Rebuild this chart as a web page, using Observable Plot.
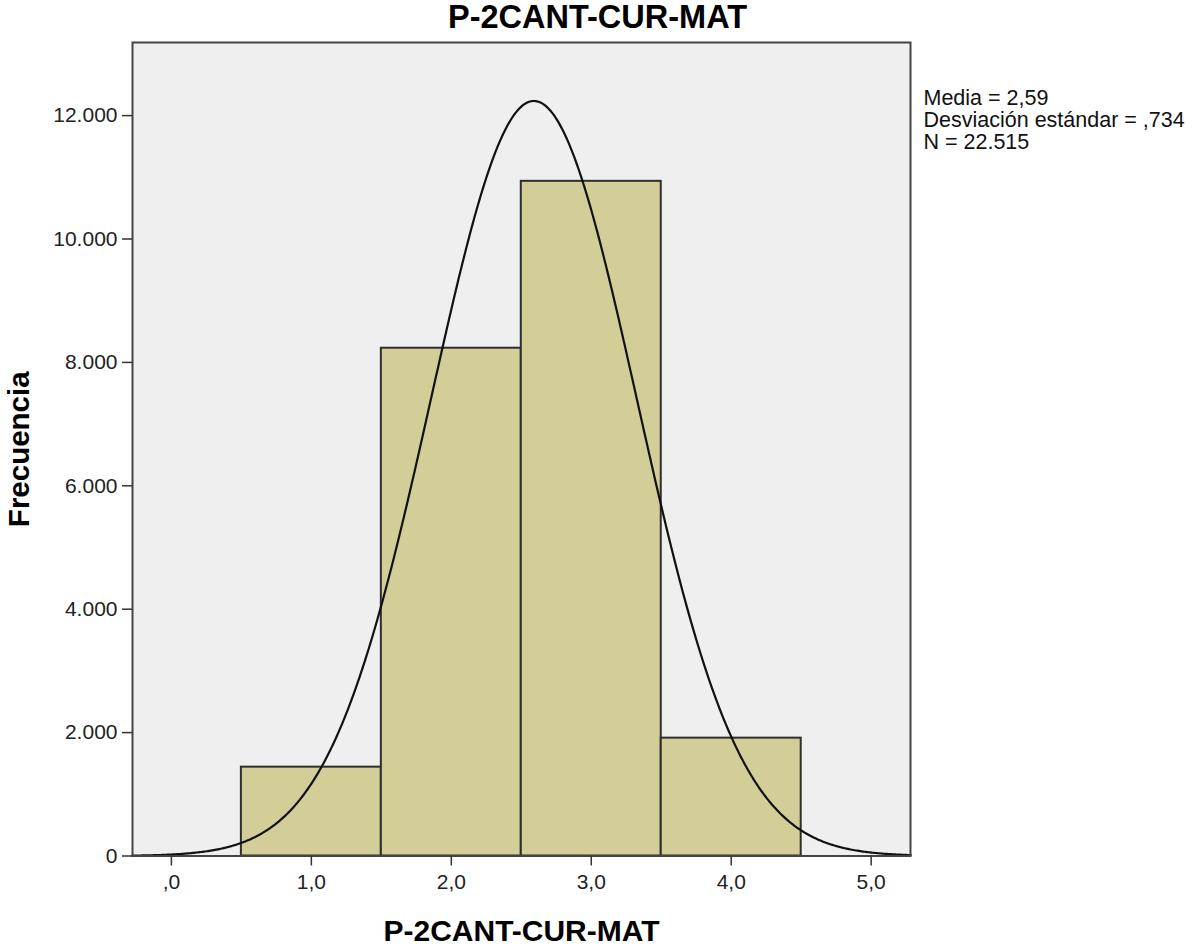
<!DOCTYPE html>
<html>
<head>
<meta charset="utf-8">
<script src="https://cdn.jsdelivr.net/npm/d3@7"></script>
<script src="https://cdn.jsdelivr.net/npm/@observablehq/plot@0.6"></script>
<style>
  html, body { margin: 0; padding: 0; background: #fff; }
</style>
</head>
<body>
<div id="chart"></div>
<script>
// ---- data ----
const chartTitle = "P-2CANT-CUR-MAT";
const xLabel = "P-2CANT-CUR-MAT";
const yLabel = "Frecuencia";
const binStarts = [0.5, 1.5, 2.5, 3.5];
const binEnds = [1.5, 2.5, 3.5, 4.5];
const frequencies = [1440, 8230, 10935, 1910];
const meanValue = 2.59;
const sdValue = 0.734;
const nValue = 22515;
const binWidth = 1;
const xTicks = [0, 1, 2, 3, 4, 5];
const yTicks = [0, 2000, 4000, 6000, 8000, 10000, 12000];
const legendLines = ["Media = 2,59", "Desviación estándar = ,734", "N = 22.515"];
const xDomain = [-0.278, 5.281];
const yDomain = [0, 13185];

// ---- derived tables ----
const bins = binStarts.map((s, i) => ({x1: s, x2: binEnds[i], y: frequencies[i]}));
// fitted normal curve from the stated mean, sd and N
const curve = d3.range(xDomain[0], xDomain[1] + 0.005, 0.01).map(x => ({
  x,
  y: nValue * binWidth * Math.exp(-0.5 * ((x - meanValue) / sdValue) ** 2) / (sdValue * Math.sqrt(2 * Math.PI))
}));

const fmtY = d => d3.format(",")(d).replace(/,/g, ".");
const fmtX = d => d === 0 ? ",0" : d.toFixed(1).replace(".", ",");

const FONT = "'Liberation Sans', Arial, Helvetica, sans-serif";

const chart = Plot.plot({
  width: 1192,
  height: 947,
  marginLeft: 132,
  marginRight: 282,
  marginTop: 42,
  marginBottom: 91.5,
  style: {fontFamily: FONT, background: "#ffffff", color: "#222"},
  x: {domain: xDomain},
  y: {domain: yDomain},
  marks: [
    Plot.frame({fill: "#efefef", stroke: null}),
    Plot.rectY(bins, {x1: "x1", x2: "x2", y: "y", fill: "#d3ce97", stroke: "#2e2e2e", strokeWidth: 2}),
    Plot.line(curve, {x: "x", y: "y", stroke: "#111", strokeWidth: 2.2, curve: "linear"}),
    Plot.frame({stroke: "#444", strokeWidth: 2}),
    Plot.axisY({ticks: yTicks, tickFormat: fmtY, tickSize: 10, tickPadding: 5, fontSize: 21, label: null, stroke: "#333", strokeWidth: 1.5, fill: "#222"}),
    Plot.axisX({ticks: xTicks, tickFormat: fmtX, tickSize: 10, tickPadding: 8, fontSize: 21, label: null, stroke: "#333", strokeWidth: 1.5, fill: "#222"}),
    // title
    Plot.text([chartTitle], {frameAnchor: "top", dx: 76, dy: -15, lineAnchor: "bottom", fontSize: 32.5, fontWeight: "bold", fill: "#000"}),
    // x axis label
    Plot.text([xLabel], {frameAnchor: "bottom", dy: 84.5, lineAnchor: "bottom", fontSize: 30, fontWeight: "bold", fill: "#000"}),
    // y axis label
    Plot.text([yLabel], {frameAnchor: "left", dx: -104, rotate: -90, lineAnchor: "bottom", textAnchor: "middle", fontSize: 29.5, fontWeight: "bold", fill: "#000"}),
    // stats legend
    Plot.text([legendLines.join("\n")], {frameAnchor: "top-right", dx: 13, dy: 106, textAnchor: "start", lineAnchor: "bottom", lineHeight: 22 / 21.5, fontSize: 21.5, fill: "#111"})
  ]
});

document.getElementById("chart").appendChild(chart);
</script>
</body>
</html>
